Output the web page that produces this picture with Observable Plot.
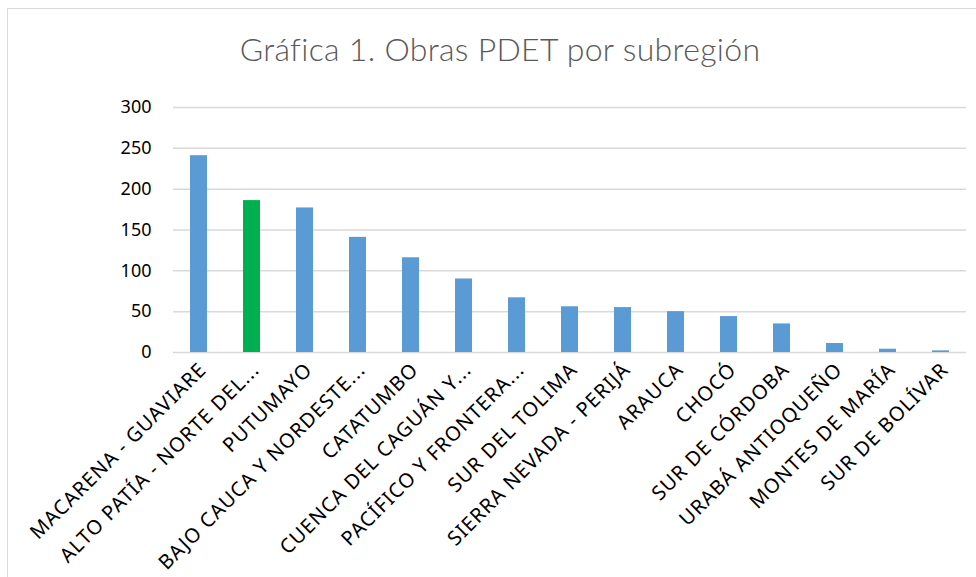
<!DOCTYPE html>
<html><head><meta charset="utf-8">
<script src="https://cdn.jsdelivr.net/npm/d3@7"></script>
<script src="https://cdn.jsdelivr.net/npm/@observablehq/plot@0.6"></script>
<style>
html,body{margin:0;padding:0;background:#fff;overflow:hidden;width:976px;height:577px;}
#wrap{position:relative;width:976px;height:577px;}
#frame{position:absolute;left:7px;top:8px;width:1000px;height:600px;border:1.5px solid #d9d9d9;box-sizing:border-box;}
#title{position:absolute;left:0;top:29px;width:1000px;text-align:center;font-family:Lato,sans-serif;font-weight:300;font-size:32px;color:#595959;letter-spacing:0.3px;}
#chart{position:absolute;left:0;top:0;}
#chart svg text{font-family:"Noto Sans",sans-serif !important;fill:#000;}
#chart svg g[aria-label="x-axis tick label"] text{letter-spacing:1px;}
</style></head>
<body><div id="wrap"><div id="frame"></div><div id="title">Gráfica 1. Obras PDET por subregión</div><div id="chart"></div></div>
<script>
const categories = ["MACARENA - GUAVIARE","ALTO PATÍA - NORTE DEL...","PUTUMAYO","BAJO CAUCA Y NORDESTE...","CATATUMBO","CUENCA DEL CAGUÁN Y...","PACÍFICO Y FRONTERA...","SUR DEL TOLIMA","SIERRA NEVADA - PERIJÁ","ARAUCA","CHOCÓ","SUR DE CÓRDOBA","URABÁ ANTIOQUEÑO","MONTES DE MARÍA","SUR DE BOLÍVAR"];
const values = [241, 186, 177, 141, 116, 90, 67, 56, 55, 50, 44, 35, 11, 4, 2];
const highlight = ["ALTO PATÍA - NORTE DEL..."];
const yTicks = [0, 50, 100, 150, 200, 250, 300];

const data = categories.map((c, i) => ({cat: c, value: values[i], hi: highlight.includes(c)}));

const chart = Plot.plot({
  width: 976, height: 577,
  marginLeft: 173, marginRight: 10, marginTop: 107, marginBottom: 225,
  style: {fontFamily: "'Noto Sans', sans-serif", background: "transparent", color: "#000"},
  x: {domain: categories, paddingInner: 0.67, paddingOuter: 0.3, label: null},
  y: {domain: [0, 300], label: null},
  marks: [
    Plot.gridY(yTicks, {stroke: "#d9d9d9", strokeWidth: 1.5, strokeOpacity: 1}),
    Plot.barY(data, {x: "cat", y: "value", fill: d => d.hi ? "#00b050" : "#5b9bd5"}),
    Plot.axisY(yTicks, {tickSize: 0, tickPadding: 22, fontSize: 18, label: null}),
    Plot.axisX({tickRotate: -45, tickSize: 0, tickPadding: 14, dx: 4, fontSize: 20, label: null})
  ]
});
document.getElementById("chart").appendChild(chart);
</script></body></html>
